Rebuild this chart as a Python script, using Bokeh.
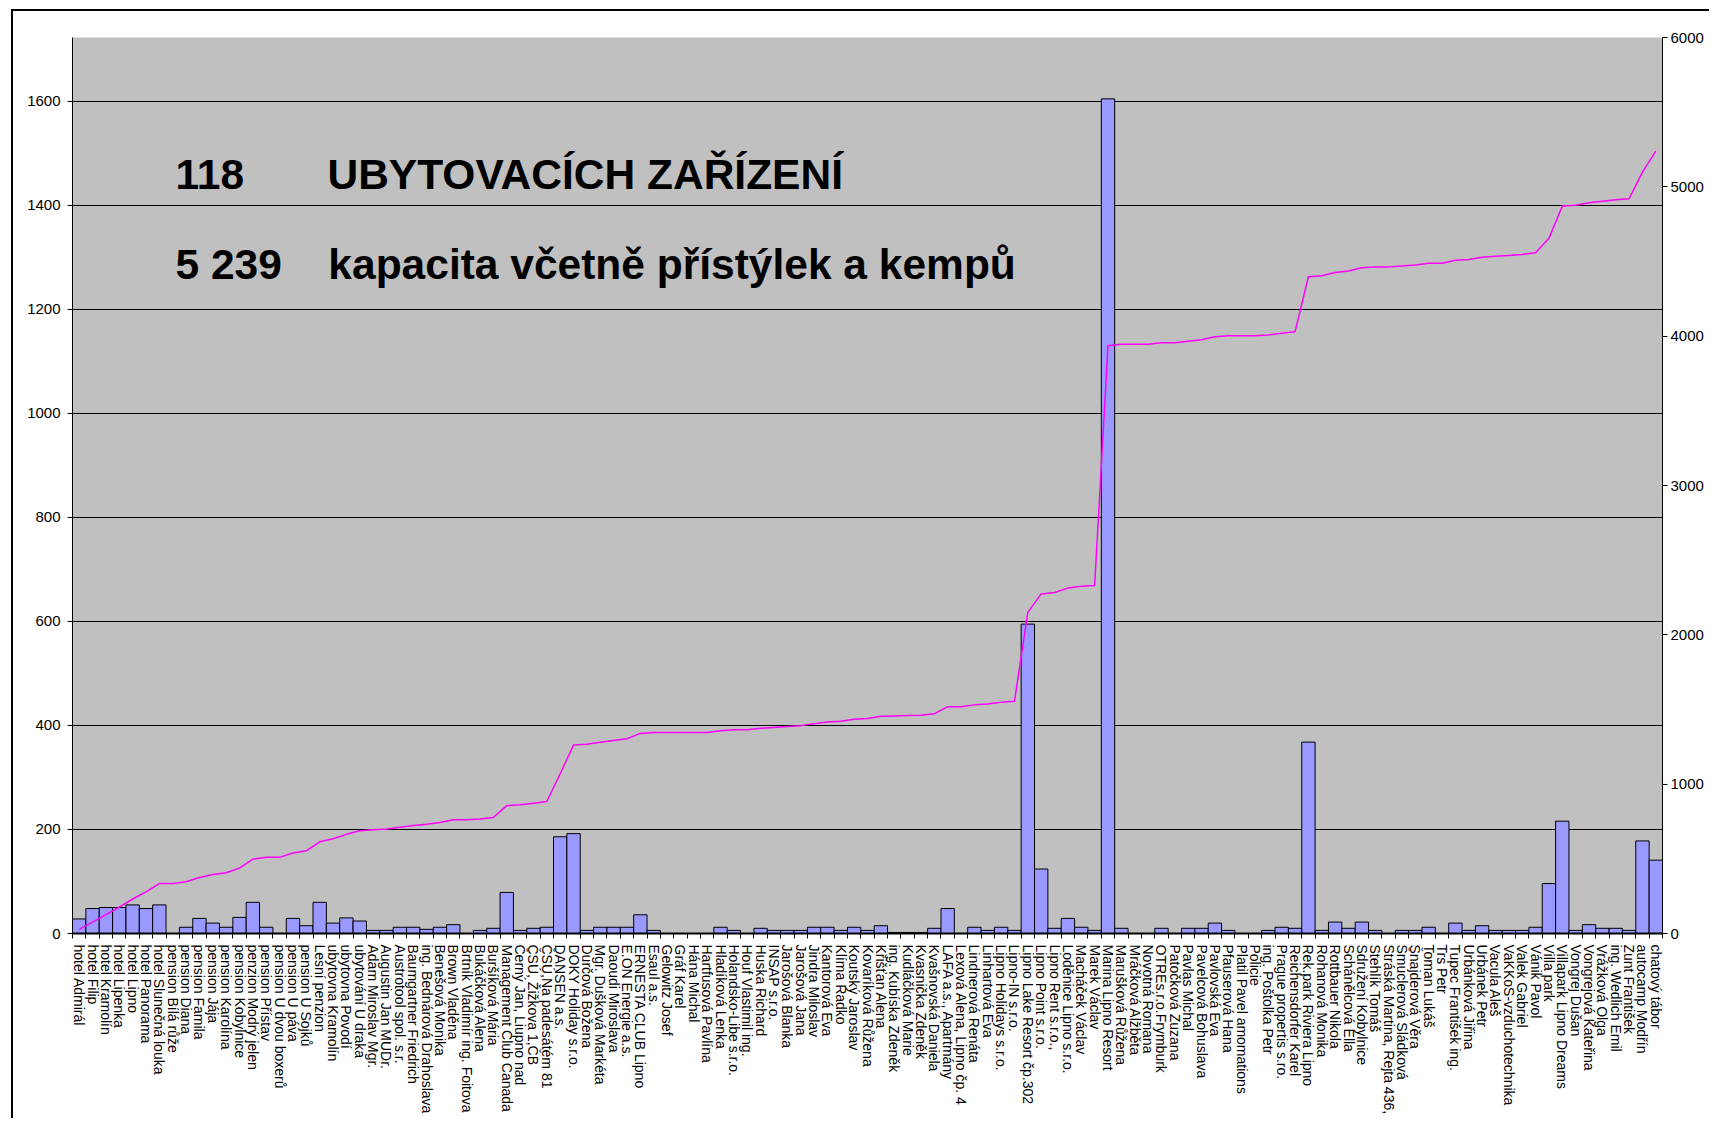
from bokeh.plotting import figure
from bokeh.models import Range1d, LinearAxis, FixedTicker, Label
from bokeh.embed import file_html
from bokeh.resources import INLINE

categories = [
    "hotel  Admirál", "hotel Filip", "hotel Kramolín", "hotel Lipenka", "hotel Lipno",
    "hotel Panorama", "hotel Slunečná louka", "pension Bílá růže", "pension Diana", "pension Famila",
    "pension Jája", "pension Karolína", "pension Kobylnice", "penzion Modrý jelen", "pension Přístav",
    "pension U dvou boxerů", "pension U páva", "pension U Sojků", "Lesní penzion", "ubytovna Kramolín",
    "ubytovna Povodí", "ubytování U draka", "Adam Miroslav Mgr.", "Augustin Jan MUDr.", "Austrotool spol. s.r.",
    "Baumgartner Friedrich", "ing. Bednárová Drahoslava", "Benešová Monika", "Brown Vladěna", "Brtník Vladimír ing. Foitova",
    "Bukáčková Alena", "Buršíková Mária", "Management Club Canada", "Černý Jan, Liupno nad", "ČSÚ, Žižkova 1,ČB",
    "ČSÚ,Na padesátém 81", "DANSEN a.s.", "DOKY Holiday s.r.o.", "Durčová Božena", "Mgr. Dušková Markéta",
    "Daoudi Miroslava", "E.ON Energie a.s.", "ERNESTA CLUB Lipno", "Esaul a.s.", "Gelowitz Josef",
    "Gráf Karel", "Hána Michal", "Hartfusová Pavlína", "Hladíková Lenka", "Holandsko-Libe s.r.o.",
    "Houf Vlastimil ing.", "Huska Richard", "INSAP s.r.o.", "Jarošová Blanka", "Jarošová Jana",
    "Jindra Miloslav", "Kantorová Eva", "Klíma Radko", "Koutský Jaroslav", "Kovaríková Růžena",
    "Křišťan Alena", "ing. Kubíska Zdeněk", "Kudláčková Marie", "Kvasnička Zdeněk", "Kvašnovská Daniela",
    "LAFA a.s., Apartmány", "Lexová Alena, Lipno čp. 4", "Lindnerová Renáta", "Linhartová Eva", "Lipno Holidays s.r.o.",
    "Lipno-IN s.r.o.", "Lipno Lake Resort čp.302", "Lipno Point s.r.o.", "Lipno Rent s.r.o.,", "Loděnice Lipno s.r.o.",
    "Macháček Václav", "Marek Václav", "Marina Lipno Resort", "Marušková Růžena", "Mráčková Alžběta",
    "Novotná Romana", "OTREs.r.o.Frymburk", "Patočková Zuzana", "Pavlas Michal", "Pavelcová Bohuslava",
    "Pavlovská Eva", "Pfauserová Hana", "Platil Pavel amomations", "Policie", "ing. Poštolka Petr",
    "Prague propertis s.ro.", "Reichensdorfer Karel", "Rek.park Riviera Lipno", "Rohanová Monika", "Rottbauer Nikola",
    "Schánělcová Ella", "Sdružení Kobylnice", "Stehlík Tomáš", "Stráská Martina, Rejta 436,", "Šmuclerová Sládková",
    "Šnajderová Věra", "Toman Lukáš", "Trs Petr", "Tupec František ing.", "Urbánková Jiřina",
    "Urbánek Petr", "Vacula Aleš", "VaKKoS-vzduchotechnika", "Valek Gabriel", "Vánik Pavol",
    "Villa park", "Villapark Lipno Dreams", "Vongrej Dušan", "Vongrejová Kateřina", "Vrážková Olga",
    "ing. Wedlich Emil", "Zunt František", "autocamp Modřín", "chatový tábor",
]

capacity = [
    28, 48, 50, 50, 55, 48, 55, 0, 12, 29,
    20, 12, 31, 60, 12, 0, 29, 15, 60, 20,
    30, 24, 6, 6, 12, 12, 8, 12, 17, 0,
    6, 10, 79, 6, 10, 12, 186, 192, 6, 12,
    12, 12, 36, 6, 0, 0, 0, 0, 12, 6,
    0, 10, 6, 6, 6, 12, 12, 6, 12, 6,
    15, 2, 2, 2, 10, 48, 0, 12, 6, 12,
    6, 595, 124, 10, 29, 12, 6, 1605, 10, 0,
    0, 10, 0, 10, 10, 20, 6, 0, 0, 6,
    12, 10, 368, 6, 22, 10, 22, 6, 0, 6,
    6, 12, 0, 20, 6, 15, 6, 6, 6, 12,
    96, 216, 6, 17, 10, 10, 6, 178, 141,
]

cumulative = [
    28, 76, 126, 176, 231, 279, 334, 334, 346, 375,
    395, 407, 438, 498, 510, 510, 539, 554, 614, 634,
    664, 688, 694, 700, 712, 724, 732, 744, 761, 761,
    767, 777, 856, 862, 872, 884, 1070, 1262, 1268, 1280,
    1292, 1304, 1340, 1346, 1346, 1346, 1346, 1346, 1358, 1364,
    1364, 1374, 1380, 1386, 1392, 1404, 1416, 1422, 1434, 1440,
    1455, 1457, 1459, 1461, 1471, 1519, 1519, 1531, 1537, 1549,
    1555, 2150, 2274, 2284, 2313, 2325, 2331, 3936, 3946, 3946,
    3946, 3956, 3956, 3966, 3976, 3996, 4002, 4002, 4002, 4008,
    4020, 4030, 4398, 4404, 4426, 4436, 4458, 4464, 4464, 4470,
    4476, 4488, 4488, 4508, 4514, 4529, 4535, 4541, 4547, 4559,
    4655, 4871, 4877, 4894, 4904, 4914, 4920, 5098, 5239,
]

left_ticks = [0, 200, 400, 600, 800, 1000, 1200, 1400, 1600]
right_ticks = [0, 1000, 2000, 3000, 4000, 5000, 6000]

headline_count = "118"
headline_count_text = "UBYTOVACÍCH ZAŘÍZENÍ"
headline_total = "5 239"
headline_total_text = "kapacita včetně přístýlek a kempů"

FONT = "Liberation Sans"
n = len(categories)
xs = list(range(1, n + 1))

p = figure(
    width=1698, height=1109,
    x_range=Range1d(0.5, n + 0.5), y_range=Range1d(0, 1723),
    output_backend="svg", toolbar_location=None,
    min_border_left=59, min_border_right=49, min_border_top=26, min_border_bottom=187,
)
p.styles = {"border-left": "2px solid black", "border-top": "2px solid black",
            "margin-left": "11px", "margin-top": "9px"}
p.extra_y_ranges = {"cum": Range1d(0, 6000)}
p.background_fill_color = "#C0C0C0"
p.border_fill_color = "white"
p.outline_line_color = None

p.vbar(x=xs, top=capacity, width=1.0, fill_color="#9999FF", line_color="black", line_width=1)
p.line(x=xs, y=cumulative, y_range_name="cum", line_color="#FF00FF", line_width=1.5)

right = LinearAxis(y_range_name="cum", ticker=FixedTicker(ticks=right_ticks))
p.add_layout(right, "right")

p.yaxis[0].ticker = FixedTicker(ticks=left_ticks)
p.ygrid.ticker = FixedTicker(ticks=left_ticks)
p.ygrid.grid_line_color = "black"
p.ygrid.grid_line_width = 1
p.xgrid.grid_line_color = None

for ax in p.yaxis:
    ax.axis_line_color = "black"
    ax.axis_line_width = 1
    ax.major_tick_line_color = "black"
    ax.major_tick_out = 5
    ax.major_tick_in = 0
    ax.minor_tick_line_color = None
    ax.major_label_text_font = FONT
    ax.major_label_text_font_size = "15px"
    ax.major_label_text_color = "black"
p.yaxis[0].major_label_standoff = 7
right.major_label_standoff = 3

xa = p.xaxis[0]
xa.ticker = FixedTicker(ticks=xs, minor_ticks=[i + 0.5 for i in range(0, n + 1)])
xa.major_label_overrides = {i: c for i, c in zip(xs, categories)}
xa.major_label_orientation = "vertical"
xa.major_label_text_font = FONT
xa.major_label_text_font_size = "14px"
xa.major_label_text_color = "black"
xa.major_label_standoff = 5
xa.major_tick_line_color = None
xa.minor_tick_line_color = "black"
xa.minor_tick_out = 5
xa.minor_tick_in = 0
xa.axis_line_color = "black"
xa.axis_line_width = 2

for txt, xx, yy in [(headline_count, 8.21, 1459), (headline_count_text, 19.58, 1459),
                    (headline_total, 8.21, 1286), (headline_total_text, 19.65, 1286)]:
    p.add_layout(Label(x=xx, y=yy, text=txt, text_font=FONT, text_font_style="bold",
                       text_font_size="42.5px", text_color="black", text_baseline="alphabetic"))

open("out.html", "w").write(file_html(p, INLINE))
